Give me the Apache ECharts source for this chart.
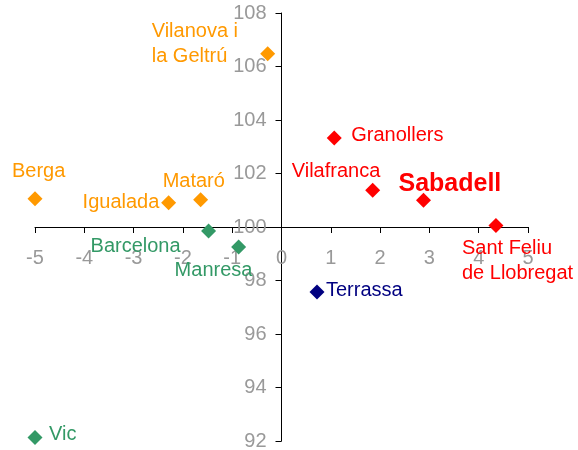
<!DOCTYPE html>
<html>
<head>
<meta charset="UTF-8">
<title>scatter</title>
<style>
  html, body { margin: 0; padding: 0; background: #fff; }
  #chart { width: 578px; height: 450px; }
</style>
</head>
<body>
<div id="chart"></div>
<script src="https://cdn.jsdelivr.net/npm/echarts@6/dist/echarts.min.js"></script>
<script>
// valors llegits del gràfic
var orangeNames = ['Vilanova i\nla Geltrú', 'Berga', 'Igualada', 'Mataró'];
var orangeX = [-0.28, -5.0, -2.29, -1.64];
var orangeY = [106.48, 101.06, 100.91, 101.02];

var greenNames = ['Barcelona', 'Manresa', 'Vic'];
var greenX = [-1.48, -0.87, -5.0];
var greenY = [99.85, 99.25, 92.13];

var redNames = ['Granollers', 'Vilafranca', 'Sabadell', 'Sant Feliu\nde Llobregat'];
var redX = [1.07, 1.85, 2.88, 4.35];
var redY = [103.33, 101.37, 101.0, 100.06];

var navyNames = ['Terrassa'];
var navyX = [0.72];
var navyY = [97.57];

var xMin = -5, xMax = 5, xStep = 1;
var yMin = 92, yMax = 108, yStep = 2;
var xCross = 0;   // l'eix Y creua a x = 0
var yCross = 100; // l'eix X creua a y = 100

// posicio de les etiquetes (desplacament respecte del punt)
var labelOffsets = {
    'Vilanova i\nla Geltrú': [-116, -10],
    'Berga': [-23, -27],
    'Igualada': [-86, 0],
    'Mataró': [-38, -18],
    'Barcelona': [-118, 15],
    'Manresa': [-64, 23],
    'Vic': [14, -3],
    'Granollers': [17, -2],
    'Vilafranca': [-81, -19],
    'Sabadell': [-25, -16],
    'Sant Feliu\nde Llobregat': [-34, 36],
    'Terrassa': [9, -2]
};

var W = 578, H = 450;
var gLeft = 35, gRight = 50, gTop = 13, gBottom = 9;
var gW = W - gLeft - gRight, gH = H - gTop - gBottom;
var font = 'Arial, "Liberation Sans", sans-serif';

function makeSeries(names, xs, ys, color) {
    var data = names.map(function (n, i) {
        var item = {
            name: n,
            value: [xs[i], ys[i]],
            label: { offset: labelOffsets[n] }
        };
        if (n === 'Sabadell') {
            item.label.fontSize = 25;
            item.label.fontWeight = 'bold';
        }
        return item;
    });
    return {
        type: 'scatter',
        symbol: 'diamond',
        symbolSize: 15,
        itemStyle: { color: color, opacity: 1 },
        label: {
            show: true,
            position: 'inside',
            align: 'left',
            verticalAlign: 'middle',
            formatter: '{b}',
            color: color,
            fontSize: 20,
            lineHeight: 25,
            fontFamily: font
        },
        data: data
    };
}

var myChart = echarts.init(document.getElementById('chart'));
var option = {
    animation: false,
    backgroundColor: '#fff',
    grid: {
        left: gLeft, right: gRight, top: gTop, bottom: gBottom,
        containLabel: false, outerBoundsMode: 'none'
    },
    xAxis: {
        type: 'value',
        position: 'bottom',
        offset: -gH * (yCross - yMin) / (yMax - yMin),
        min: xMin, max: xMax, interval: xStep,
        axisLine: { onZero: false, lineStyle: { color: '#000', width: 1 } },
        axisTick: { show: true, length: 6, lineStyle: { color: '#000' } },
        axisLabel: { color: '#999', fontSize: 20, fontFamily: font, margin: 21 },
        splitLine: { show: false }
    },
    yAxis: {
        type: 'value',
        position: 'left',
        offset: -gW * (xCross - xMin) / (xMax - xMin),
        min: yMin, max: yMax, interval: yStep,
        axisLine: { show: true, onZero: false, lineStyle: { color: '#000', width: 1 } },
        axisTick: { show: true, length: 6, lineStyle: { color: '#000' } },
        axisLabel: { color: '#999', fontSize: 20, fontFamily: font, margin: 15 },
        splitLine: { show: false }
    },
    series: [
        makeSeries(orangeNames, orangeX, orangeY, '#FF9900'),
        makeSeries(greenNames, greenX, greenY, '#339966'),
        makeSeries(redNames, redX, redY, '#FF0000'),
        makeSeries(navyNames, navyX, navyY, '#000080')
    ]
};
myChart.setOption(option);
</script>
</body>
</html>
